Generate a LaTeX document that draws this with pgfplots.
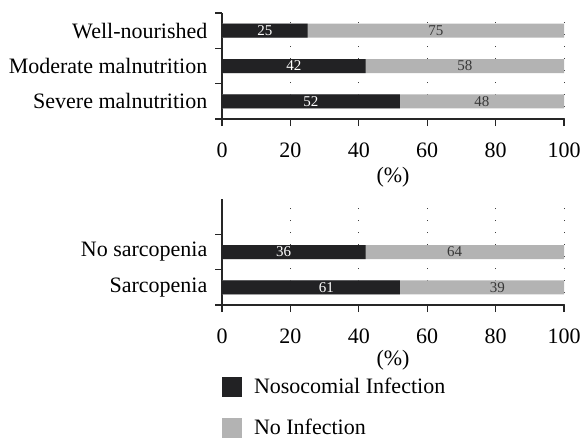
\documentclass[border=0pt]{standalone}
\usepackage{fontspec}
\setmainfont{Liberation Serif}
\usepackage{pgfplots}
\pgfplotsset{compat=1.18}
\definecolor{barblack}{RGB}{34,34,36}
\definecolor{bargrey}{RGB}{179,179,179}
\definecolor{labgrey}{RGB}{55,55,55}
\newcommand{\mainf}{\fontsize{11}{13}\selectfont}
\newcommand{\valf}{\fontsize{7.5}{9}\selectfont}
\begin{document}
\begin{tikzpicture}
\pgfplotsset{
  myaxis/.style={
    scale only axis, width=171pt, height=53pt,
    xmin=0, xmax=100, ymin=0.5, ymax=3.5,
    axis x line*=bottom, axis y line*=left,
    axis line style={line width=0.6pt, black!85},
    xbar, bar width=7pt, bar shift=0pt,
    xtick={0,20,40,60,80,100},
    tick align=outside, major tick length=3.5pt,
    tick style={line width=0.6pt, black!85},
    xmajorgrids,
    grid style={black!75, line width=0.5pt, dash pattern=on 0.5pt off 5.5pt},
    /pgf/number format/assume math mode=true,
    ticklabel style={font=\mainf},
    xticklabel style={yshift=-5pt, inner xsep=0pt},
    xlabel={(\%)},
    xlabel style={font=\mainf, yshift=2pt},
    yticklabels={},
    extra y tick style={major tick length=0pt, yticklabel style={xshift=-3.8pt}},
  },
  greybar/.style={xbar, bar shift=0pt, fill=bargrey, draw=none,
    legend image code/.code={\fill[bargrey] (0pt,-5pt) rectangle (10pt,5pt);}},
  blackbar/.style={xbar, bar shift=0pt, fill=barblack, draw=none,
    legend image code/.code={\fill[barblack] (0pt,-5pt) rectangle (10pt,5pt);}},
  vallab/.style={only marks, mark=none, nodes near coords, point meta=explicit symbolic,
    every node near coord/.append style={anchor=center, font=\valf, text=#1, inner sep=0pt}},
}
% ---------- top panel ----------
\begin{axis}[myaxis, name=top, at={(0,0)}, anchor=north west,
  ytick={0.5,1.5,2.5,3.5},
  extra y ticks={1,2,3},
  extra y tick labels={Severe malnutrition, Moderate malnutrition, Well-nourished},
]
\addplot[greybar] coordinates {(100,3) (100,2) (100,1)};
\addplot[blackbar] coordinates {(25,3) (42,2) (52,1)};
\addplot[vallab=white] coordinates {(12.5,3) [25] (21,2) [42] (26,1) [52]};
\addplot[vallab=labgrey] coordinates {(62.5,3) [75] (71,2) [58] (76,1) [48]};
\end{axis}
% ---------- bottom panel ----------
\begin{axis}[myaxis, name=bot, at={(0,-93pt)}, anchor=north west,
  ytick={0.5,1.5,2.5},
  extra y ticks={1,2},
  extra y tick labels={Sarcopenia, No sarcopenia},
  xlabel style={yshift=1.5pt},
  reverse legend,
  legend style={at={(0,0)}, anchor=north west, yshift=-34.5pt, draw=none, fill=none,
    inner sep=0pt, outer sep=0pt, row sep=7pt, font=\mainf,
    cells={anchor=west}, /tikz/every even column/.append style={column sep=0pt}},
]
\addplot[greybar] coordinates {(100,2) (100,1)};
\addlegendentry{\hspace{4pt}No Infection}
\addplot[blackbar] coordinates {(42,2) (52,1)};
\addlegendentry{\hspace{4pt}Nosocomial Infection}
\addplot[vallab=white, forget plot] coordinates {(18,2) [36] (30.5,1) [61]};
\addplot[vallab=labgrey, forget plot] coordinates {(68,2) [64] (80.5,1) [39]};
\end{axis}
\path ([shift={(-111pt,6.5pt)}]top.north west) rectangle ([shift={(179.5pt,-209.5pt)}]top.north west);
\end{tikzpicture}
\end{document}
